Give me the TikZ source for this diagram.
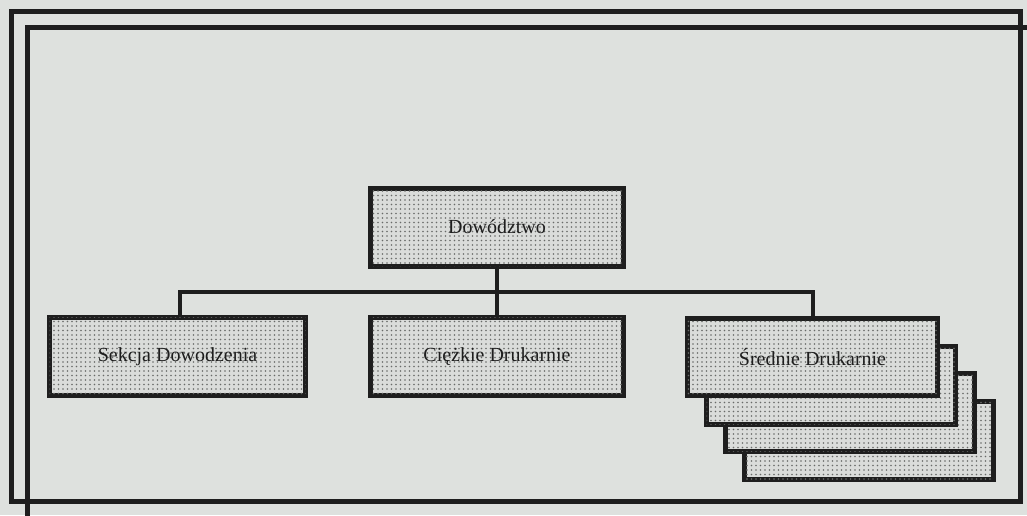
\documentclass[tikz,border=0pt]{standalone}
\usepackage{fontspec}
\setmainfont{Liberation Serif}
\usetikzlibrary{patterns.meta}
\definecolor{paper}{RGB}{222,225,222}
\definecolor{ink}{RGB}{30,30,30}
\definecolor{boxbg}{RGB}{218,220,218}
\definecolor{dotc}{RGB}{105,107,105}
\tikzset{
  frame/.style={draw=ink, line width=5pt},
  unit/.style={draw=ink, line width=5pt, rectangle, inner sep=0pt,
    fill=boxbg,
    postaction={pattern={Dots[distance=4.5pt, radius=0.9pt]}, pattern color=dotc},
    font=\fontsize{20}{24}\selectfont, text=ink},
  bigunit/.style={unit, minimum width=253pt, minimum height=78pt},
  stackunit/.style={unit, minimum width=249pt, minimum height=78pt},
  link/.style={draw=ink, line width=4pt},
}
\begin{document}
\begin{tikzpicture}[x=1pt, y=-1pt]
  \useasboundingbox (0,0) rectangle (1027,515);
  \fill[paper] (0,0) rectangle (1027,515);
  \clip (0,0) rectangle (1027,515);

  % double page frame, the inner one runs off the page
  \draw[frame] (11.5,11.5) rectangle (1020,501.5);
  \draw[frame] (27,27.5) rectangle (1040,530);

  % head of the tree
  \node[bigunit] (dow) at (497,227) {Dowództwo};

  % second level
  \node[unit, minimum width=256pt, minimum height=78pt] (sek) at (177.5,356.5) {Sekcja Dowodzenia};
  \node[bigunit] (cie) at (497,356.5) {Ciężkie Drukarnie};

  % stack of medium printing units, back to front
  \node[stackunit] (sr3) at (868.5,440) {};
  \node[stackunit] (sr2) at (850,412.5) {};
  \node[stackunit] (sr1) at (831,385) {};
  \node[unit, minimum width=250pt, minimum height=77pt] (sr) at (812.5,357) {Średnie Drukarnie};

  % connectors
  \coordinate (bus) at (0,292);
  \draw[link] (dow.south) -- (cie.north);
  \draw[link] ([xshift=2.5pt]sek.north) -- ([xshift=2.5pt]sek.north |- bus) -- (sr.north |- bus) -- (sr.north);
\end{tikzpicture}
\end{document}
